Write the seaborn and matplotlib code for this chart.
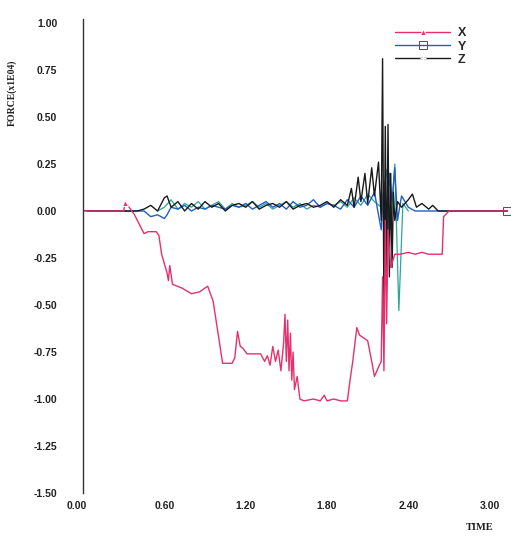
import matplotlib
matplotlib.use('Agg')
import matplotlib.pyplot as plt
import matplotlib.transforms as mtransforms
import seaborn as sns
import pandas as pd

# ---- data (force in 1E04 units vs time) ----
time_x = [0.00, 0.30, 0.31, 0.33, 0.38, 0.45, 0.48, 0.54, 0.56, 0.58, 0.62, 0.63,
          0.64, 0.66, 0.73, 0.80, 0.86, 0.92, 0.96, 1.03, 1.10, 1.12, 1.14, 1.16,
          1.18, 1.21, 1.31, 1.34, 1.36, 1.38, 1.40, 1.42, 1.44, 1.46, 1.48, 1.49,
          1.50, 1.51, 1.52, 1.53, 1.54, 1.55, 1.56, 1.58, 1.60, 1.63, 1.70, 1.75,
          1.78, 1.80, 1.85, 1.90, 1.95, 1.97, 1.99, 2.02, 2.04, 2.06, 2.10, 2.13,
          2.15, 2.18, 2.20, 2.21, 2.22, 2.23, 2.24, 2.25, 2.27, 2.30, 2.34, 2.40,
          2.45, 2.50, 2.55, 2.60, 2.65, 2.66, 2.70, 3.13]
force_x = [0.00, 0.00, 0.04, 0.03, -0.02, -0.12, -0.11, -0.11, -0.13, -0.23, -0.33, -0.37,
           -0.29, -0.39, -0.41, -0.44, -0.43, -0.40, -0.48, -0.81, -0.81, -0.78, -0.64, -0.72,
           -0.73, -0.76, -0.76, -0.80, -0.77, -0.82, -0.72, -0.80, -0.74, -0.85, -0.70, -0.55,
           -0.80, -0.58, -0.85, -0.65, -0.90, -0.75, -0.95, -0.88, -1.00, -1.01, -1.00, -1.01,
           -0.98, -1.01, -1.00, -1.01, -1.01, -0.90, -0.80, -0.62, -0.66, -0.67, -0.69, -0.80,
           -0.88, -0.83, -0.80, -0.35, -0.85, -0.05, -0.60, -0.10, -0.30, -0.23, -0.23, -0.22,
           -0.23, -0.22, -0.23, -0.23, -0.23, -0.03, 0.00, 0.00]

time_y = [0.00, 0.45, 0.50, 0.55, 0.60, 0.62, 0.65, 0.70, 0.75, 0.80, 0.85, 0.90,
          0.95, 1.00, 1.05, 1.10, 1.15, 1.20, 1.25, 1.30, 1.35, 1.40, 1.45, 1.50,
          1.55, 1.60, 1.65, 1.70, 1.75, 1.80, 1.85, 1.90, 1.95, 2.00, 2.05, 2.10,
          2.15, 2.20, 2.22, 2.24, 2.26, 2.28, 2.30, 2.32, 2.35, 2.40, 2.45, 3.13]
force_y = [0.00, 0.00, -0.03, -0.02, -0.04, -0.02, 0.02, 0.01, 0.03, 0.00, 0.02, 0.01,
           0.03, 0.02, 0.01, 0.03, 0.02, 0.04, 0.01, 0.03, 0.05, 0.02, 0.04, 0.01,
           0.05, 0.02, 0.03, 0.06, 0.02, 0.04, 0.03, 0.01, 0.06, 0.02, 0.08, 0.03,
           0.10, -0.10, 0.15, -0.30, 0.20, 0.05, 0.23, -0.05, 0.08, 0.02, 0.00, 0.00]

time_z = [0.00, 0.40, 0.45, 0.50, 0.55, 0.60, 0.62, 0.65, 0.70, 0.75, 0.80, 0.85,
          0.90, 0.95, 1.00, 1.05, 1.10, 1.15, 1.20, 1.25, 1.30, 1.35, 1.40, 1.45,
          1.50, 1.55, 1.60, 1.65, 1.70, 1.75, 1.80, 1.85, 1.90, 1.95, 1.98, 2.00,
          2.03, 2.05, 2.08, 2.10, 2.13, 2.15, 2.18, 2.20, 2.21, 2.22, 2.23, 2.24,
          2.25, 2.26, 2.27, 2.28, 2.29, 2.30, 2.32, 2.35, 2.40, 2.43, 2.46, 2.50,
          2.55, 2.58, 2.62, 3.13]
force_z = [0.00, 0.00, 0.01, 0.03, 0.00, 0.07, 0.08, 0.02, 0.05, 0.00, 0.04, 0.01,
           0.05, 0.02, 0.04, 0.00, 0.03, 0.04, 0.02, 0.05, 0.01, 0.03, 0.04, 0.02,
           0.05, 0.01, 0.03, 0.04, 0.02, 0.03, 0.05, 0.02, 0.06, 0.03, 0.12, 0.02,
           0.18, 0.05, 0.20, 0.04, 0.23, 0.08, 0.26, -0.05, 0.81, -0.55, 0.45, -0.40,
           0.46, -0.35, 0.20, -0.30, 0.10, -0.05, 0.05, 0.02, 0.06, 0.09, 0.02, 0.04,
           0.01, 0.03, 0.00, 0.00]

# unlabelled teal trace seen under the Y/Z curves
time_t = [0.55, 0.60, 0.65, 0.70, 0.75, 0.80, 0.85, 0.90, 0.95, 1.00, 1.05, 1.10,
          1.15, 1.20, 1.25, 1.30, 1.35, 1.40, 1.45, 1.50, 1.55, 1.60, 1.65, 1.70,
          1.75, 1.80, 1.85, 1.90, 1.95, 2.00, 2.05, 2.10, 2.15, 2.20, 2.24, 2.27,
          2.30, 2.33, 2.36, 2.40]
force_t = [0.00, 0.02, 0.06, 0.01, 0.04, 0.02, 0.05, 0.01, 0.03, 0.05, 0.01, 0.04,
           0.02, 0.03, 0.05, 0.02, 0.04, 0.01, 0.03, 0.05, 0.02, 0.04, 0.01, 0.03,
           0.02, 0.04, 0.03, 0.05, 0.02, 0.07, 0.03, 0.09, 0.05, 0.02, 0.22, -0.10,
           0.25, -0.53, 0.04, 0.00]

x_ticks = [0.0, 0.6, 1.2, 1.8, 2.4, 3.0]
x_tick_labels = ['0.00', '0.60', '1.20', '1.80', '2.40', '3.00']
y_ticks = [1.0, 0.75, 0.5, 0.25, 0.0, -0.25, -0.5, -0.75, -1.0, -1.25, -1.5]
y_tick_labels = ['1.00', '0.75', '0.50', '0.25', '0.00', '-0.25', '-0.50',
                 '-0.75', '-1.00', '-1.25', '-1.50']

sns.set_style('white')

fig = plt.figure(figsize=(5.15, 5.37), dpi=100)
ax = fig.add_axes([83 / 515, 44 / 537, 427 / 515, 470 / 537])

df_t = pd.DataFrame({'time': time_t, 'force': force_t})
df_y = pd.DataFrame({'time': time_y, 'force': force_y})
df_z = pd.DataFrame({'time': time_z, 'force': force_z})
df_x = pd.DataFrame({'time': time_x, 'force': force_x})

sns.lineplot(data=df_t, x='time', y='force', ax=ax, color='#2aa79b', lw=0.9,
             sort=False, estimator=None, label='_nolegend_')
sns.lineplot(data=df_y, x='time', y='force', ax=ax, color='#1f5fc4', lw=1.0,
             sort=False, estimator=None, label='Y', marker='s', markersize=6,
             markerfacecolor='none', markeredgecolor='#555555', markevery=[len(time_y) - 1])
sns.lineplot(data=df_z, x='time', y='force', ax=ax, color='#1a1a1a', lw=1.0,
             sort=False, estimator=None, label='Z', marker='+', markersize=5,
             markevery=[0])
sns.lineplot(data=df_x, x='time', y='force', ax=ax, color='#e5316b', lw=1.0,
             sort=False, estimator=None, label='X', marker='^', markersize=5,
             markevery=[2])

ax.set_xlim(0, 3.15)
ax.set_ylim(-1.5, 1.0)
for side in ['top', 'right', 'bottom']:
    ax.spines[side].set_visible(False)
ax.spines['left'].set_color('#333333')
ax.spines['left'].set_linewidth(1.0)
ax.spines['left'].set_bounds(-1.5, 1.02)

ax.set_xticks(x_ticks)
ax.set_xticklabels(x_tick_labels)
ax.set_yticks(y_ticks)
ax.set_yticklabels(y_tick_labels)
ax.tick_params(axis='y', direction='inout', length=3, width=1.2, pad=17,
               labelsize=7.5, colors='#222222')
ax.tick_params(axis='x', direction='in', length=3, width=0.8, pad=6,
               labelsize=7.5, colors='#222222')
for lbl in ax.get_xticklabels() + ax.get_yticklabels():
    lbl.set_fontweight('bold')
    lbl.set_family('Liberation Sans')
# the first time label sits a little left of its tick in the original
first = ax.get_xticklabels()[0]
first.set_transform(first.get_transform() +
                    mtransforms.ScaledTranslation(-6 / 100, 0, fig.dpi_scale_trans))
ax.set_xlabel('')
ax.set_ylabel('')

fig.text(12 / 515, 1 - 93 / 537, 'FORCE(x1E04)', rotation=90, ha='center', va='center',
         fontsize=7, fontweight='bold', family='Liberation Serif', color='#222222')
fig.text(480 / 515, 1 - 528 / 537, 'TIME', ha='center', va='center',
         fontsize=7.5, fontweight='bold', family='Liberation Serif', color='#222222')

handles, labels = ax.get_legend_handles_labels()
order = [labels.index(k) for k in ['X', 'Y', 'Z']]
ax.legend([handles[i] for i in order], ['X', 'Y', 'Z'], loc='upper left',
          bbox_to_anchor=(384 / 515, 1 - 16 / 537), bbox_transform=fig.transFigure,
          frameon=False, handlelength=4.4, handletextpad=0.6, labelspacing=0.1,
          prop={'family': 'Liberation Sans', 'weight': 'bold', 'size': 9})

fig.savefig('out.png', dpi=100, facecolor='white')
